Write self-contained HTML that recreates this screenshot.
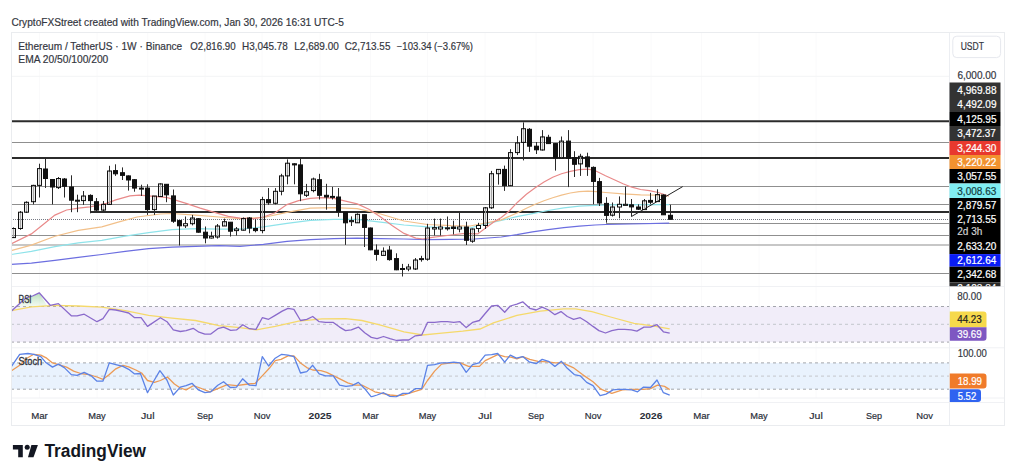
<!DOCTYPE html>
<html><head><meta charset="utf-8"><style>
html,body{margin:0;padding:0;background:#fff;width:1024px;height:474px;overflow:hidden;font-family:"Liberation Sans", sans-serif;}
</style></head><body>
<svg width="1024" height="474" viewBox="0 0 1024 474" style="position:absolute;left:0;top:0" font-family='"Liberation Sans", sans-serif'><defs><clipPath id="cm"><rect x="11.5" y="32.5" width="937.5" height="254"/></clipPath><clipPath id="cr"><rect x="11.5" y="287" width="937.5" height="60.5"/></clipPath><clipPath id="cs"><rect x="11.5" y="348.5" width="937.5" height="49.5"/></clipPath><linearGradient id="gg" x1="0" y1="0" x2="0" y2="1"><stop offset="0" stop-color="#7ac47f" stop-opacity="0.55"/><stop offset="1" stop-color="#d9efd9" stop-opacity="0.35"/></linearGradient></defs><line x1="39.5" y1="32" x2="39.5" y2="398" stroke="#fafafb" stroke-width="1"/><line x1="97" y1="32" x2="97" y2="398" stroke="#fafafb" stroke-width="1"/><line x1="147.8" y1="32" x2="147.8" y2="398" stroke="#fafafb" stroke-width="1"/><line x1="205" y1="32" x2="205" y2="398" stroke="#fafafb" stroke-width="1"/><line x1="262" y1="32" x2="262" y2="398" stroke="#fafafb" stroke-width="1"/><line x1="320" y1="32" x2="320" y2="398" stroke="#fafafb" stroke-width="1"/><line x1="370.5" y1="32" x2="370.5" y2="398" stroke="#fafafb" stroke-width="1"/><line x1="427.5" y1="32" x2="427.5" y2="398" stroke="#fafafb" stroke-width="1"/><line x1="485" y1="32" x2="485" y2="398" stroke="#fafafb" stroke-width="1"/><line x1="536" y1="32" x2="536" y2="398" stroke="#fafafb" stroke-width="1"/><line x1="593" y1="32" x2="593" y2="398" stroke="#fafafb" stroke-width="1"/><line x1="651" y1="32" x2="651" y2="398" stroke="#fafafb" stroke-width="1"/><line x1="701.5" y1="32" x2="701.5" y2="398" stroke="#fafafb" stroke-width="1"/><line x1="759" y1="32" x2="759" y2="398" stroke="#fafafb" stroke-width="1"/><line x1="816" y1="32" x2="816" y2="398" stroke="#fafafb" stroke-width="1"/><line x1="11" y1="76.3" x2="949" y2="76.3" stroke="#f3f4f6" stroke-width="1"/><g clip-path="url(#cr)"><rect x="11" y="306.5" width="938" height="35.6" fill="#f1edf9"/><line x1="11" y1="306.5" x2="949" y2="306.5" stroke="#a3a5ac" stroke-width="1" stroke-dasharray="3 3"/><line x1="11" y1="324.3" x2="949" y2="324.3" stroke="#c4c6cc" stroke-width="1" stroke-dasharray="3 3"/><line x1="11" y1="342.1" x2="949" y2="342.1" stroke="#a3a5ac" stroke-width="1" stroke-dasharray="3 3"/><polygon points="15.6,306.5 19.7,303.6 26,298 32.5,296 39.2,292.8 47.6,306.5" fill="url(#gg)"/><polyline points="11.5,310.7 31.4,306.9 54.9,305.3 78.3,306.0 101.8,307.2 125.2,310.7 148.6,315.4 172.0,318.2 195.5,320.5 219.0,325.7 240.0,327.6 256.4,329.9 275.2,326.4 298.6,321.2 322.0,318.9 345.5,318.6 361.9,320.5 380.6,325.2 404.0,331.8 422.8,335.0 439.2,333.4 462.7,331.1 480.0,329.0 493.4,322.9 516.9,315.4 540.3,311.1 563.8,308.8 575.5,308.8 591.9,311.6 610.6,317.0 634.0,323.3 652.8,325.9 669.7,328.9" fill="none" stroke="#f5d96b" stroke-width="1.3"/><polyline points="11.5,311.1 19.7,303.6 26.0,298.0 32.5,296.0 39.2,292.8 50.2,305.3 58.4,303.6 71.3,315.8 77.1,315.8 84.2,314.2 97.0,321.7 103.0,318.6 109.3,309.3 115.8,310.0 122.9,311.6 128.7,313.0 134.6,317.7 141.1,317.7 147.5,326.4 160.4,317.7 167.0,321.7 173.3,329.9 180.3,331.5 186.1,330.6 193.2,328.3 199.0,332.2 204.9,334.1 210.8,334.1 217.8,328.7 223.6,327.1 230.7,330.4 236.5,329.9 242.8,324.7 249.4,328.7 256.0,329.4 262.3,317.7 268.6,319.3 275.2,315.4 282.2,311.1 288.0,308.3 293.9,309.3 300.5,320.5 306.8,319.3 312.7,316.5 319.2,321.7 325.6,322.4 333.3,322.4 339.6,327.1 345.5,330.6 351.3,329.9 358.4,327.1 364.7,332.7 371.3,337.4 377.1,338.6 383.5,336.5 390.0,338.6 396.6,340.5 402.9,340.0 408.8,340.0 415.3,335.8 421.7,335.0 427.5,322.4 434.6,322.4 441.1,321.7 447.4,321.7 453.8,322.4 459.9,321.7 466.2,327.6 472.5,322.4 479.4,320.5 485.2,313.5 491.6,306.0 497.7,305.3 504.7,312.3 510.3,306.0 516.9,304.1 522.7,301.8 529.8,308.3 536.1,310.0 542.2,307.2 548.5,310.0 554.9,314.7 561.0,311.6 567.3,316.5 573.6,319.3 580.2,317.7 586.7,321.7 593.0,326.4 598.9,330.6 605.5,333.0 611.8,330.6 618.1,329.4 624.7,329.4 631.3,329.9 636.9,331.1 643.9,327.1 650.5,327.1 657.0,324.7 663.4,331.8 669.7,333.2" fill="none" stroke="#8a6acb" stroke-width="1.3" stroke-linejoin="round"/></g><g clip-path="url(#cs)"><rect x="11" y="362.9" width="938" height="26.3" fill="#e9f2fd"/><line x1="11" y1="362.9" x2="949" y2="362.9" stroke="#a3a5ac" stroke-width="1" stroke-dasharray="3 3"/><line x1="11" y1="376.1" x2="949" y2="376.1" stroke="#c4c6cc" stroke-width="1" stroke-dasharray="3 3"/><line x1="11" y1="389.2" x2="949" y2="389.2" stroke="#a3a5ac" stroke-width="1" stroke-dasharray="3 3"/><polyline points="11.5,370.7 19.7,365.3 26.8,358.2 33.8,354.3 40.8,355.2 46.7,358.2 52.5,362.9 58.4,364.6 66.6,367.1 73.6,371.1 80.7,373.5 88.9,374.6 97.0,377.0 103.0,379.3 109.3,374.6 115.8,368.8 122.9,365.3 128.7,366.9 135.8,370.0 141.6,373.0 147.5,380.5 154.5,382.4 160.4,380.5 167.4,377.0 174.4,384.0 180.3,388.0 186.1,389.9 193.2,385.7 200.2,388.0 209.6,391.8 217.8,388.7 227.2,384.7 236.5,385.7 248.0,384.0 255.2,383.3 263.4,374.6 269.3,368.3 275.2,360.6 281.0,359.4 288.0,355.9 293.9,355.9 300.5,362.9 306.8,367.6 312.7,370.0 320.9,370.7 326.7,372.3 333.8,375.8 340.8,379.3 347.8,382.8 354.9,385.2 361.9,385.2 367.7,388.0 374.8,391.8 381.8,393.4 390.0,395.0 397.0,395.7 404.0,395.0 411.1,392.7 421.7,389.4 427.5,380.5 434.6,371.1 441.6,364.1 451.0,362.9 460.3,362.9 468.5,366.4 479.4,366.4 485.2,360.6 497.7,354.7 504.7,356.6 511.0,357.1 516.9,358.9 522.7,356.6 529.8,359.4 538.0,361.3 547.4,361.8 555.6,362.9 562.6,362.9 573.1,367.6 582.5,374.6 593.0,381.7 601.3,389.4 611.8,393.4 622.4,389.9 631.7,389.4 643.5,389.4 650.5,388.7 657.5,385.2 664.6,386.4 669.7,389.6" fill="none" stroke="#ec9a55" stroke-width="1.3" stroke-linejoin="round"/><polyline points="11.5,366.4 19.7,354.3 27.9,353.5 33.8,354.3 40.8,356.6 45.5,362.2 52.5,367.1 58.4,364.1 64.3,367.6 71.3,374.6 77.1,375.3 84.2,372.3 91.2,375.8 97.0,381.2 103.0,381.0 109.3,362.9 115.8,364.6 122.9,366.4 128.7,369.3 134.6,373.9 140.4,373.5 147.5,392.7 153.8,381.0 159.9,370.7 166.9,380.0 173.3,395.0 180.3,387.1 186.1,385.7 192.0,383.3 198.3,389.9 204.9,392.7 210.8,391.8 217.8,385.2 223.6,381.7 230.2,387.5 236.5,387.1 242.6,378.8 249.4,385.2 256.0,385.7 262.3,356.6 268.6,366.0 275.2,358.2 281.7,354.3 288.0,355.2 293.9,356.6 300.5,373.0 306.8,371.6 312.7,365.3 319.2,373.9 325.6,375.8 333.3,375.8 339.6,385.2 346.0,386.4 352.0,385.7 358.4,382.4 364.7,388.7 371.3,396.9 377.1,395.0 383.5,392.7 390.0,396.4 395.9,396.9 402.9,393.4 408.8,393.4 415.3,388.7 421.7,388.7 427.5,365.3 434.6,364.6 441.1,362.9 447.4,362.9 453.8,362.2 459.9,362.9 466.2,372.3 472.6,364.6 478.9,362.9 485.2,355.2 491.6,354.7 497.7,353.5 504.7,362.2 510.3,355.2 516.4,358.2 522.7,356.6 529.1,361.8 536.1,363.6 542.2,359.4 548.5,361.3 554.9,366.4 561.4,361.3 567.3,368.3 574.3,374.6 580.2,375.8 586.7,382.4 593.0,385.7 600.1,395.7 606.0,394.1 613.0,389.9 618.8,389.4 625.2,389.4 631.7,389.9 637.6,391.8 643.5,387.1 650.5,387.5 657.0,380.0 663.4,392.7 669.7,395.2" fill="none" stroke="#5b82e6" stroke-width="1.3" stroke-linejoin="round"/></g><line x1="11" y1="286.5" x2="1005" y2="286.5" stroke="#f0f1f4" stroke-width="1"/><line x1="11" y1="347.8" x2="1005" y2="347.8" stroke="#f0f1f4" stroke-width="1"/><line x1="11" y1="398" x2="1005" y2="398" stroke="#f0f1f4" stroke-width="1"/><line x1="11" y1="402.5" x2="1005" y2="402.5" stroke="#f0f1f4" stroke-width="1"/><g clip-path="url(#cm)"><line x1="11" y1="121.2" x2="949" y2="121.2" stroke="#2b2b2b" stroke-width="2"/><line x1="11" y1="142.5" x2="949" y2="142.5" stroke="#8f8f8f" stroke-width="1.2"/><line x1="11" y1="158" x2="949" y2="158" stroke="#2b2b2b" stroke-width="2"/><line x1="11" y1="186.5" x2="949" y2="186.5" stroke="#8f8f8f" stroke-width="1.2"/><line x1="11" y1="204.5" x2="949" y2="204.5" stroke="#8f8f8f" stroke-width="1.2"/><line x1="90" y1="212" x2="949" y2="212" stroke="#2b2b2b" stroke-width="2"/><line x1="606" y1="223.5" x2="949" y2="223.5" stroke="#8f8f8f" stroke-width="1.2"/><line x1="11" y1="235.5" x2="949" y2="235.5" stroke="#8f8f8f" stroke-width="1.2"/><line x1="11" y1="245.0" x2="949" y2="245.0" stroke="#8f8f8f" stroke-width="1.2"/><line x1="11" y1="273.5" x2="949" y2="273.5" stroke="#8f8f8f" stroke-width="1.2"/><line x1="11" y1="219.5" x2="949" y2="219.5" stroke="#777a84" stroke-width="1" stroke-dasharray="1 1"/><polyline points="11.0,264.3 31.4,263.1 54.9,260.3 78.3,257.3 101.8,254.5 125.2,251.4 148.6,248.6 172.0,247.2 195.5,246.3 219.0,245.6 240.0,246.3 263.4,244.4 287.0,241.4 310.3,239.7 333.8,238.6 357.2,238.1 380.6,238.6 404.0,239.0 427.5,239.7 451.0,239.3 474.7,239.0 501.3,237.0 516.9,234.7 532.5,231.9 548.1,229.7 563.8,227.7 579.4,226.1 595.0,225.0 606.0,224.5 630.0,224.0 669.2,223.2" fill="none" stroke="#6c6ee0" stroke-width="1.2"/><polyline points="11.0,254.5 31.4,251.4 54.9,246.7 78.3,242.8 101.8,240.4 125.2,236.2 148.6,232.7 172.0,229.7 195.5,228.7 219.0,229.2 240.0,229.2 263.4,226.8 287.0,223.3 310.3,220.3 333.8,219.3 357.2,219.3 380.6,222.2 404.0,225.0 427.5,226.8 451.0,228.0 470.0,228.0 485.6,223.8 501.3,220.3 516.9,216.7 532.5,213.6 548.1,210.5 563.8,207.8 579.4,206.2 595.0,205.3 610.6,204.8 669.2,204.6" fill="none" stroke="#8fe3ea" stroke-width="1.2"/><polyline points="11.0,250.7 31.4,245.1 54.9,236.2 78.3,230.4 101.8,226.8 118.2,222.2 137.0,217.0 160.4,214.0 172.0,213.5 195.5,215.1 219.0,217.0 240.0,218.6 263.4,217.5 287.0,212.3 310.3,208.1 333.8,207.6 357.2,208.6 380.6,214.0 404.0,221.0 427.5,224.5 451.0,225.7 470.0,226.0 485.6,223.0 501.3,219.8 517.6,212.7 526.4,208.3 535.2,204.3 544.0,200.8 552.7,197.8 561.5,195.1 570.3,193.0 579.1,191.6 587.9,191.1 596.7,191.6 605.5,192.5 623.0,193.9 640.6,194.8 658.2,195.1 668.8,196.0" fill="none" stroke="#f2c08a" stroke-width="1.2"/><polyline points="11.0,243.9 31.4,233.9 43.2,224.5 54.9,215.1 66.6,210.0 78.3,208.1 90.0,206.9 106.4,203.4 115.8,199.9 129.9,195.9 139.3,195.2 148.6,195.9 167.4,197.6 186.1,203.4 200.2,208.1 211.9,211.6 228.3,216.3 240.0,218.2 254.0,218.6 263.4,217.0 275.2,212.8 286.9,204.6 298.6,200.6 310.3,198.3 322.0,197.6 333.8,198.3 345.5,201.1 357.2,203.9 368.9,209.3 380.6,217.0 392.4,225.7 404.0,233.4 415.8,238.1 422.8,239.0 432.2,237.4 451.0,235.0 465.0,233.4 477.8,233.9 485.6,228.1 493.4,222.2 501.3,217.5 509.0,211.2 517.6,202.2 526.4,194.3 535.2,187.8 544.0,182.0 552.7,177.2 561.5,173.7 570.3,171.4 579.1,169.7 587.9,169.1 594.9,170.5 605.5,175.8 614.3,179.7 623.0,183.7 631.9,187.2 640.6,189.5 649.4,190.7 658.2,192.5 668.8,196.0" fill="none" stroke="#e98a8a" stroke-width="1.2"/><line x1="631.5" y1="216.5" x2="682.7" y2="186.6" stroke="#222" stroke-width="1"/><line x1="13.50" y1="227.4" x2="13.50" y2="238" stroke="#2a2a2a" stroke-width="1"/><line x1="13.50" y1="229.0" x2="13.50" y2="237.1" stroke="#d6d6d6" stroke-width="0.8"/><rect x="11.50" y="228.5" width="4.0" height="9.1" fill="#000" fill-opacity="0.08" stroke="#111" stroke-width="1"/><line x1="20.50" y1="211" x2="20.50" y2="229.8" stroke="#2a2a2a" stroke-width="1"/><line x1="20.50" y1="212.7" x2="20.50" y2="228.0" stroke="#d6d6d6" stroke-width="0.8"/><rect x="18.50" y="212.2" width="4.0" height="16.3" fill="#000" fill-opacity="0.08" stroke="#111" stroke-width="1"/><line x1="26.50" y1="201.3" x2="26.50" y2="212.9" stroke="#2a2a2a" stroke-width="1"/><line x1="26.50" y1="202.8" x2="26.50" y2="211.7" stroke="#d6d6d6" stroke-width="0.8"/><rect x="24.50" y="202.3" width="4.0" height="9.9" fill="#000" fill-opacity="0.08" stroke="#111" stroke-width="1"/><line x1="33.50" y1="184.8" x2="33.50" y2="204.4" stroke="#2a2a2a" stroke-width="1"/><line x1="33.50" y1="185.9" x2="33.50" y2="201.2" stroke="#d6d6d6" stroke-width="0.8"/><rect x="31.50" y="185.4" width="4.0" height="16.3" fill="#000" fill-opacity="0.08" stroke="#111" stroke-width="1"/><line x1="39.50" y1="163.7" x2="39.50" y2="197.5" stroke="#2a2a2a" stroke-width="1"/><line x1="39.50" y1="169.1" x2="39.50" y2="184.9" stroke="#d6d6d6" stroke-width="0.8"/><rect x="37.50" y="168.6" width="4.0" height="16.8" fill="#000" fill-opacity="0.08" stroke="#111" stroke-width="1"/><line x1="45.50" y1="158.4" x2="45.50" y2="188" stroke="#2a2a2a" stroke-width="1"/><rect x="43.50" y="169" width="4.0" height="9.5" fill="#111" stroke="#111" stroke-width="1"/><line x1="52.50" y1="179" x2="52.50" y2="204.4" stroke="#2a2a2a" stroke-width="1"/><rect x="50.50" y="179.5" width="4.0" height="7.5" fill="#111" stroke="#111" stroke-width="1"/><line x1="58.50" y1="177" x2="58.50" y2="189" stroke="#2a2a2a" stroke-width="1"/><line x1="58.50" y1="179.0" x2="58.50" y2="187.1" stroke="#d6d6d6" stroke-width="0.8"/><rect x="56.50" y="178.5" width="4.0" height="9.1" fill="#000" fill-opacity="0.08" stroke="#111" stroke-width="1"/><line x1="64.50" y1="178" x2="64.50" y2="197.5" stroke="#2a2a2a" stroke-width="1"/><rect x="62.50" y="179" width="4.0" height="7.3" fill="#111" stroke="#111" stroke-width="1"/><line x1="71.50" y1="175.3" x2="71.50" y2="212.2" stroke="#2a2a2a" stroke-width="1"/><rect x="69.50" y="187" width="4.0" height="13.2" fill="#111" stroke="#111" stroke-width="1"/><line x1="77.50" y1="194.7" x2="77.50" y2="212.2" stroke="#2a2a2a" stroke-width="1"/><rect x="75.50" y="200.2" width="4.0" height="1.0" fill="#fff" stroke="#111" stroke-width="1"/><line x1="83.50" y1="191" x2="83.50" y2="204.9" stroke="#2a2a2a" stroke-width="1"/><line x1="83.50" y1="196.5" x2="83.50" y2="200.1" stroke="#d6d6d6" stroke-width="0.8"/><rect x="81.50" y="196" width="4.0" height="4.6" fill="#000" fill-opacity="0.08" stroke="#111" stroke-width="1"/><line x1="90.50" y1="194.3" x2="90.50" y2="213.3" stroke="#2a2a2a" stroke-width="1"/><rect x="88.50" y="195.4" width="4.0" height="5.2" fill="#111" stroke="#111" stroke-width="1"/><line x1="96.50" y1="198" x2="96.50" y2="211.2" stroke="#2a2a2a" stroke-width="1"/><rect x="94.50" y="201.7" width="4.0" height="8.4" fill="#111" stroke="#111" stroke-width="1"/><line x1="103.50" y1="201" x2="103.50" y2="211.2" stroke="#2a2a2a" stroke-width="1"/><line x1="103.50" y1="204.9" x2="103.50" y2="209.6" stroke="#d6d6d6" stroke-width="0.8"/><rect x="101.50" y="204.4" width="4.0" height="5.7" fill="#000" fill-opacity="0.08" stroke="#111" stroke-width="1"/><line x1="109.50" y1="165.8" x2="109.50" y2="204.4" stroke="#2a2a2a" stroke-width="1"/><line x1="109.50" y1="171.5" x2="109.50" y2="203.9" stroke="#d6d6d6" stroke-width="0.8"/><rect x="107.50" y="171" width="4.0" height="33.4" fill="#000" fill-opacity="0.08" stroke="#111" stroke-width="1"/><line x1="115.50" y1="164.3" x2="115.50" y2="175.9" stroke="#2a2a2a" stroke-width="1"/><rect x="113.50" y="170.6" width="4.0" height="3.2" fill="#111" stroke="#111" stroke-width="1"/><line x1="122.50" y1="167.4" x2="122.50" y2="180" stroke="#2a2a2a" stroke-width="1"/><rect x="120.50" y="172.7" width="4.0" height="2.7" fill="#111" stroke="#111" stroke-width="1"/><line x1="128.50" y1="175.4" x2="128.50" y2="190.6" stroke="#2a2a2a" stroke-width="1"/><rect x="126.50" y="175.9" width="4.0" height="4.1" fill="#111" stroke="#111" stroke-width="1"/><line x1="134.50" y1="179" x2="134.50" y2="191.7" stroke="#2a2a2a" stroke-width="1"/><rect x="132.50" y="179.7" width="4.0" height="8.4" fill="#111" stroke="#111" stroke-width="1"/><line x1="141.50" y1="184.7" x2="141.50" y2="196" stroke="#2a2a2a" stroke-width="1"/><rect x="139.50" y="188.1" width="4.0" height="1.0" fill="#fff" stroke="#111" stroke-width="1"/><line x1="147.50" y1="184.3" x2="147.50" y2="214.9" stroke="#2a2a2a" stroke-width="1"/><rect x="145.50" y="188.1" width="4.0" height="21.5" fill="#111" stroke="#111" stroke-width="1"/><line x1="154.50" y1="196" x2="154.50" y2="214.9" stroke="#2a2a2a" stroke-width="1"/><line x1="154.50" y1="196.5" x2="154.50" y2="209.1" stroke="#d6d6d6" stroke-width="0.8"/><rect x="152.50" y="196" width="4.0" height="13.6" fill="#000" fill-opacity="0.08" stroke="#111" stroke-width="1"/><line x1="160.50" y1="183.3" x2="160.50" y2="196.5" stroke="#2a2a2a" stroke-width="1"/><line x1="160.50" y1="184.4" x2="160.50" y2="196.0" stroke="#d6d6d6" stroke-width="0.8"/><rect x="158.50" y="183.9" width="4.0" height="12.6" fill="#000" fill-opacity="0.08" stroke="#111" stroke-width="1"/><line x1="166.50" y1="184" x2="166.50" y2="202.2" stroke="#2a2a2a" stroke-width="1"/><rect x="164.50" y="184.3" width="4.0" height="10.5" fill="#111" stroke="#111" stroke-width="1"/><line x1="173.50" y1="189.5" x2="173.50" y2="222.9" stroke="#2a2a2a" stroke-width="1"/><rect x="171.50" y="195.9" width="4.0" height="25.3" fill="#111" stroke="#111" stroke-width="1"/><line x1="179.50" y1="220" x2="179.50" y2="245.5" stroke="#2a2a2a" stroke-width="1"/><rect x="177.50" y="220.6" width="4.0" height="5.2" fill="#111" stroke="#111" stroke-width="1"/><line x1="185.50" y1="216.5" x2="185.50" y2="228" stroke="#2a2a2a" stroke-width="1"/><rect x="183.50" y="223.7" width="4.0" height="2.1" fill="#fff" stroke="#111" stroke-width="1"/><line x1="192.50" y1="214.9" x2="192.50" y2="225.4" stroke="#2a2a2a" stroke-width="1"/><line x1="192.50" y1="218.5" x2="192.50" y2="223.2" stroke="#d6d6d6" stroke-width="0.8"/><rect x="190.50" y="218" width="4.0" height="5.7" fill="#000" fill-opacity="0.08" stroke="#111" stroke-width="1"/><line x1="198.50" y1="218" x2="198.50" y2="232.8" stroke="#2a2a2a" stroke-width="1"/><rect x="196.50" y="218.7" width="4.0" height="13.5" fill="#111" stroke="#111" stroke-width="1"/><line x1="205.50" y1="226.5" x2="205.50" y2="243.3" stroke="#2a2a2a" stroke-width="1"/><rect x="203.50" y="232.2" width="4.0" height="5.8" fill="#111" stroke="#111" stroke-width="1"/><line x1="211.50" y1="231.7" x2="211.50" y2="238.5" stroke="#2a2a2a" stroke-width="1"/><rect x="209.50" y="236.4" width="4.0" height="1.6" fill="#fff" stroke="#111" stroke-width="1"/><line x1="217.50" y1="224" x2="217.50" y2="238.6" stroke="#2a2a2a" stroke-width="1"/><line x1="217.50" y1="226.5" x2="217.50" y2="236.5" stroke="#d6d6d6" stroke-width="0.8"/><rect x="215.50" y="226" width="4.0" height="11.0" fill="#000" fill-opacity="0.08" stroke="#111" stroke-width="1"/><line x1="224.50" y1="218.6" x2="224.50" y2="226" stroke="#2a2a2a" stroke-width="1"/><line x1="224.50" y1="222.2" x2="224.50" y2="225.5" stroke="#d6d6d6" stroke-width="0.8"/><rect x="222.50" y="221.7" width="4.0" height="4.3" fill="#000" fill-opacity="0.08" stroke="#111" stroke-width="1"/><line x1="230.50" y1="222" x2="230.50" y2="236.5" stroke="#2a2a2a" stroke-width="1"/><rect x="228.50" y="222.2" width="4.0" height="9.0" fill="#111" stroke="#111" stroke-width="1"/><line x1="236.50" y1="227" x2="236.50" y2="235.5" stroke="#2a2a2a" stroke-width="1"/><rect x="234.50" y="229" width="4.0" height="1.6" fill="#fff" stroke="#111" stroke-width="1"/><line x1="243.50" y1="217.5" x2="243.50" y2="230.5" stroke="#2a2a2a" stroke-width="1"/><line x1="243.50" y1="219.1" x2="243.50" y2="229.7" stroke="#d6d6d6" stroke-width="0.8"/><rect x="241.50" y="218.6" width="4.0" height="11.6" fill="#000" fill-opacity="0.08" stroke="#111" stroke-width="1"/><line x1="249.50" y1="217" x2="249.50" y2="233.3" stroke="#2a2a2a" stroke-width="1"/><rect x="247.50" y="218" width="4.0" height="10.1" fill="#111" stroke="#111" stroke-width="1"/><line x1="255.50" y1="219.2" x2="255.50" y2="232.3" stroke="#2a2a2a" stroke-width="1"/><rect x="253.50" y="228.5" width="4.0" height="2.1" fill="#111" stroke="#111" stroke-width="1"/><line x1="262.50" y1="196.8" x2="262.50" y2="233.3" stroke="#2a2a2a" stroke-width="1"/><line x1="262.50" y1="200.1" x2="262.50" y2="230.1" stroke="#d6d6d6" stroke-width="0.8"/><rect x="260.50" y="199.6" width="4.0" height="31.0" fill="#000" fill-opacity="0.08" stroke="#111" stroke-width="1"/><line x1="268.50" y1="188" x2="268.50" y2="204.9" stroke="#2a2a2a" stroke-width="1"/><rect x="266.50" y="199.6" width="4.0" height="3.2" fill="#111" stroke="#111" stroke-width="1"/><line x1="275.50" y1="188.1" x2="275.50" y2="204.4" stroke="#2a2a2a" stroke-width="1"/><line x1="275.50" y1="191.8" x2="275.50" y2="202.8" stroke="#d6d6d6" stroke-width="0.8"/><rect x="273.50" y="191.3" width="4.0" height="12.0" fill="#000" fill-opacity="0.08" stroke="#111" stroke-width="1"/><line x1="281.50" y1="173.8" x2="281.50" y2="195.3" stroke="#2a2a2a" stroke-width="1"/><line x1="281.50" y1="176.4" x2="281.50" y2="190.8" stroke="#d6d6d6" stroke-width="0.8"/><rect x="279.50" y="175.9" width="4.0" height="15.4" fill="#000" fill-opacity="0.08" stroke="#111" stroke-width="1"/><line x1="287.50" y1="159.4" x2="287.50" y2="184.3" stroke="#2a2a2a" stroke-width="1"/><line x1="287.50" y1="163.7" x2="287.50" y2="175.4" stroke="#d6d6d6" stroke-width="0.8"/><rect x="285.50" y="163.2" width="4.0" height="12.7" fill="#000" fill-opacity="0.08" stroke="#111" stroke-width="1"/><line x1="294.50" y1="163.2" x2="294.50" y2="184.3" stroke="#2a2a2a" stroke-width="1"/><rect x="292.50" y="163.8" width="4.0" height="1.1" fill="#111" stroke="#111" stroke-width="1"/><line x1="300.50" y1="158.6" x2="300.50" y2="201.2" stroke="#2a2a2a" stroke-width="1"/><rect x="298.50" y="164.9" width="4.0" height="28.9" fill="#111" stroke="#111" stroke-width="1"/><line x1="306.50" y1="183.9" x2="306.50" y2="197" stroke="#2a2a2a" stroke-width="1"/><line x1="306.50" y1="192.2" x2="306.50" y2="194.8" stroke="#d6d6d6" stroke-width="0.8"/><rect x="304.50" y="191.7" width="4.0" height="3.6" fill="#000" fill-opacity="0.08" stroke="#111" stroke-width="1"/><line x1="313.50" y1="177.6" x2="313.50" y2="192.3" stroke="#2a2a2a" stroke-width="1"/><line x1="313.50" y1="179.5" x2="313.50" y2="190.1" stroke="#d6d6d6" stroke-width="0.8"/><rect x="311.50" y="179" width="4.0" height="11.6" fill="#000" fill-opacity="0.08" stroke="#111" stroke-width="1"/><line x1="319.50" y1="173.8" x2="319.50" y2="199.5" stroke="#2a2a2a" stroke-width="1"/><rect x="317.50" y="179.7" width="4.0" height="15.6" fill="#111" stroke="#111" stroke-width="1"/><line x1="326.50" y1="183.8" x2="326.50" y2="209.7" stroke="#2a2a2a" stroke-width="1"/><rect x="324.50" y="195.3" width="4.0" height="1.7" fill="#111" stroke="#111" stroke-width="1"/><line x1="332.50" y1="186.9" x2="332.50" y2="199.5" stroke="#2a2a2a" stroke-width="1"/><rect x="330.50" y="196.4" width="4.0" height="1.0" fill="#fff" stroke="#111" stroke-width="1"/><line x1="338.50" y1="188" x2="338.50" y2="216.8" stroke="#2a2a2a" stroke-width="1"/><rect x="336.50" y="197" width="4.0" height="14.8" fill="#111" stroke="#111" stroke-width="1"/><line x1="345.50" y1="211.8" x2="345.50" y2="244.9" stroke="#2a2a2a" stroke-width="1"/><rect x="343.50" y="212.2" width="4.0" height="10.6" fill="#111" stroke="#111" stroke-width="1"/><line x1="351.50" y1="216.4" x2="351.50" y2="226" stroke="#2a2a2a" stroke-width="1"/><rect x="349.50" y="220.6" width="4.0" height="1.1" fill="#fff" stroke="#111" stroke-width="1"/><line x1="357.50" y1="213.3" x2="357.50" y2="222.8" stroke="#2a2a2a" stroke-width="1"/><line x1="357.50" y1="214.8" x2="357.50" y2="222.3" stroke="#d6d6d6" stroke-width="0.8"/><rect x="355.50" y="214.3" width="4.0" height="8.5" fill="#000" fill-opacity="0.08" stroke="#111" stroke-width="1"/><line x1="364.50" y1="214.5" x2="364.50" y2="247" stroke="#2a2a2a" stroke-width="1"/><rect x="362.50" y="214.7" width="4.0" height="12.7" fill="#111" stroke="#111" stroke-width="1"/><line x1="370.50" y1="227.5" x2="370.50" y2="250.2" stroke="#2a2a2a" stroke-width="1"/><rect x="368.50" y="228" width="4.0" height="21.8" fill="#111" stroke="#111" stroke-width="1"/><line x1="376.50" y1="244.4" x2="376.50" y2="260.7" stroke="#2a2a2a" stroke-width="1"/><rect x="374.50" y="250.2" width="4.0" height="4.2" fill="#111" stroke="#111" stroke-width="1"/><line x1="383.50" y1="247.4" x2="383.50" y2="255.4" stroke="#2a2a2a" stroke-width="1"/><line x1="383.50" y1="251.7" x2="383.50" y2="254.9" stroke="#d6d6d6" stroke-width="0.8"/><rect x="381.50" y="251.2" width="4.0" height="4.2" fill="#000" fill-opacity="0.08" stroke="#111" stroke-width="1"/><line x1="389.50" y1="245.9" x2="389.50" y2="260.7" stroke="#2a2a2a" stroke-width="1"/><rect x="387.50" y="250.1" width="4.0" height="9.5" fill="#111" stroke="#111" stroke-width="1"/><line x1="396.50" y1="253.3" x2="396.50" y2="270.2" stroke="#2a2a2a" stroke-width="1"/><rect x="394.50" y="258.6" width="4.0" height="11.2" fill="#111" stroke="#111" stroke-width="1"/><line x1="402.50" y1="263.9" x2="402.50" y2="276.5" stroke="#2a2a2a" stroke-width="1"/><rect x="400.50" y="268.5" width="4.0" height="1.0" fill="#fff" stroke="#111" stroke-width="1"/><line x1="408.50" y1="263.9" x2="408.50" y2="271.2" stroke="#2a2a2a" stroke-width="1"/><rect x="406.50" y="267" width="4.0" height="2.0" fill="#fff" stroke="#111" stroke-width="1"/><line x1="415.50" y1="258" x2="415.50" y2="270" stroke="#2a2a2a" stroke-width="1"/><line x1="415.50" y1="260.5" x2="415.50" y2="268.5" stroke="#d6d6d6" stroke-width="0.8"/><rect x="413.50" y="260" width="4.0" height="9.0" fill="#000" fill-opacity="0.08" stroke="#111" stroke-width="1"/><line x1="421.50" y1="255.8" x2="421.50" y2="261.7" stroke="#2a2a2a" stroke-width="1"/><rect x="419.50" y="258.6" width="4.0" height="1.0" fill="#fff" stroke="#111" stroke-width="1"/><line x1="427.50" y1="223.8" x2="427.50" y2="260.7" stroke="#2a2a2a" stroke-width="1"/><line x1="427.50" y1="228.5" x2="427.50" y2="258.7" stroke="#d6d6d6" stroke-width="0.8"/><rect x="425.50" y="228" width="4.0" height="31.2" fill="#000" fill-opacity="0.08" stroke="#111" stroke-width="1"/><line x1="434.50" y1="218.6" x2="434.50" y2="235.5" stroke="#2a2a2a" stroke-width="1"/><rect x="432.50" y="227.6" width="4.0" height="1.4" fill="#fff" stroke="#111" stroke-width="1"/><line x1="440.50" y1="218.6" x2="440.50" y2="235.5" stroke="#2a2a2a" stroke-width="1"/><rect x="438.50" y="227" width="4.0" height="2.0" fill="#fff" stroke="#111" stroke-width="1"/><line x1="447.50" y1="216.5" x2="447.50" y2="230.6" stroke="#2a2a2a" stroke-width="1"/><rect x="445.50" y="227.8" width="4.0" height="1.0" fill="#fff" stroke="#111" stroke-width="1"/><line x1="453.50" y1="220.7" x2="453.50" y2="234.4" stroke="#2a2a2a" stroke-width="1"/><rect x="451.50" y="227" width="4.0" height="1.5" fill="#111" stroke="#111" stroke-width="1"/><line x1="459.50" y1="212.2" x2="459.50" y2="232.3" stroke="#2a2a2a" stroke-width="1"/><rect x="457.50" y="227" width="4.0" height="2.0" fill="#fff" stroke="#111" stroke-width="1"/><line x1="466.50" y1="221.7" x2="466.50" y2="245" stroke="#2a2a2a" stroke-width="1"/><rect x="464.50" y="227" width="4.0" height="13.3" fill="#111" stroke="#111" stroke-width="1"/><line x1="472.50" y1="228.5" x2="472.50" y2="242.8" stroke="#2a2a2a" stroke-width="1"/><line x1="472.50" y1="229.5" x2="472.50" y2="240.7" stroke="#d6d6d6" stroke-width="0.8"/><rect x="470.50" y="229" width="4.0" height="12.2" fill="#000" fill-opacity="0.08" stroke="#111" stroke-width="1"/><line x1="478.50" y1="222.8" x2="478.50" y2="232.3" stroke="#2a2a2a" stroke-width="1"/><rect x="476.50" y="225.5" width="4.0" height="3.0" fill="#fff" stroke="#111" stroke-width="1"/><line x1="485.50" y1="207" x2="485.50" y2="229" stroke="#2a2a2a" stroke-width="1"/><line x1="485.50" y1="208.3" x2="485.50" y2="225.0" stroke="#d6d6d6" stroke-width="0.8"/><rect x="483.50" y="207.8" width="4.0" height="17.7" fill="#000" fill-opacity="0.08" stroke="#111" stroke-width="1"/><line x1="491.50" y1="170.9" x2="491.50" y2="208.9" stroke="#2a2a2a" stroke-width="1"/><line x1="491.50" y1="174.2" x2="491.50" y2="207.3" stroke="#d6d6d6" stroke-width="0.8"/><rect x="489.50" y="173.7" width="4.0" height="34.1" fill="#000" fill-opacity="0.08" stroke="#111" stroke-width="1"/><line x1="498.50" y1="169" x2="498.50" y2="184.6" stroke="#2a2a2a" stroke-width="1"/><line x1="498.50" y1="169.9" x2="498.50" y2="173.2" stroke="#d6d6d6" stroke-width="0.8"/><rect x="496.50" y="169.4" width="4.0" height="4.3" fill="#000" fill-opacity="0.08" stroke="#111" stroke-width="1"/><line x1="504.50" y1="165.6" x2="504.50" y2="190.9" stroke="#2a2a2a" stroke-width="1"/><rect x="502.50" y="169.4" width="4.0" height="16.3" fill="#111" stroke="#111" stroke-width="1"/><line x1="510.50" y1="149.2" x2="510.50" y2="186" stroke="#2a2a2a" stroke-width="1"/><line x1="510.50" y1="153.1" x2="510.50" y2="185.2" stroke="#d6d6d6" stroke-width="0.8"/><rect x="508.50" y="152.6" width="4.0" height="33.1" fill="#000" fill-opacity="0.08" stroke="#111" stroke-width="1"/><line x1="517.50" y1="136.1" x2="517.50" y2="155.1" stroke="#2a2a2a" stroke-width="1"/><line x1="517.50" y1="143.4" x2="517.50" y2="152.1" stroke="#d6d6d6" stroke-width="0.8"/><rect x="515.50" y="142.9" width="4.0" height="9.7" fill="#000" fill-opacity="0.08" stroke="#111" stroke-width="1"/><line x1="523.50" y1="122.4" x2="523.50" y2="160.4" stroke="#2a2a2a" stroke-width="1"/><line x1="523.50" y1="129.2" x2="523.50" y2="141.9" stroke="#d6d6d6" stroke-width="0.8"/><rect x="521.50" y="128.7" width="4.0" height="13.7" fill="#000" fill-opacity="0.08" stroke="#111" stroke-width="1"/><line x1="529.50" y1="128.1" x2="529.50" y2="151.9" stroke="#2a2a2a" stroke-width="1"/><rect x="527.50" y="129.3" width="4.0" height="16.9" fill="#111" stroke="#111" stroke-width="1"/><line x1="536.50" y1="142" x2="536.50" y2="154" stroke="#2a2a2a" stroke-width="1"/><rect x="534.50" y="146.2" width="4.0" height="3.6" fill="#111" stroke="#111" stroke-width="1"/><line x1="542.50" y1="130.1" x2="542.50" y2="150.6" stroke="#2a2a2a" stroke-width="1"/><line x1="542.50" y1="137.4" x2="542.50" y2="149.5" stroke="#d6d6d6" stroke-width="0.8"/><rect x="540.50" y="136.9" width="4.0" height="13.1" fill="#000" fill-opacity="0.08" stroke="#111" stroke-width="1"/><line x1="548.50" y1="134.8" x2="548.50" y2="144" stroke="#2a2a2a" stroke-width="1"/><rect x="546.50" y="137.3" width="4.0" height="6.3" fill="#111" stroke="#111" stroke-width="1"/><line x1="555.50" y1="143" x2="555.50" y2="170.6" stroke="#2a2a2a" stroke-width="1"/><rect x="553.50" y="143.6" width="4.0" height="14.4" fill="#111" stroke="#111" stroke-width="1"/><line x1="561.50" y1="136.5" x2="561.50" y2="158.5" stroke="#2a2a2a" stroke-width="1"/><line x1="561.50" y1="141.6" x2="561.50" y2="157.5" stroke="#d6d6d6" stroke-width="0.8"/><rect x="559.50" y="141.1" width="4.0" height="16.9" fill="#000" fill-opacity="0.08" stroke="#111" stroke-width="1"/><line x1="568.50" y1="130.1" x2="568.50" y2="187.1" stroke="#2a2a2a" stroke-width="1"/><rect x="566.50" y="141.1" width="4.0" height="17.3" fill="#111" stroke="#111" stroke-width="1"/><line x1="574.50" y1="151.2" x2="574.50" y2="177" stroke="#2a2a2a" stroke-width="1"/><rect x="572.50" y="157.6" width="4.0" height="6.7" fill="#111" stroke="#111" stroke-width="1"/><line x1="580.50" y1="153.8" x2="580.50" y2="175.9" stroke="#2a2a2a" stroke-width="1"/><line x1="580.50" y1="156.8" x2="580.50" y2="163.4" stroke="#d6d6d6" stroke-width="0.8"/><rect x="578.50" y="156.3" width="4.0" height="7.6" fill="#000" fill-opacity="0.08" stroke="#111" stroke-width="1"/><line x1="587.50" y1="152.7" x2="587.50" y2="175.9" stroke="#2a2a2a" stroke-width="1"/><rect x="585.50" y="156.9" width="4.0" height="9.9" fill="#111" stroke="#111" stroke-width="1"/><line x1="593.50" y1="166.4" x2="593.50" y2="204.3" stroke="#2a2a2a" stroke-width="1"/><rect x="591.50" y="167.4" width="4.0" height="14.0" fill="#111" stroke="#111" stroke-width="1"/><line x1="599.50" y1="177.9" x2="599.50" y2="206" stroke="#2a2a2a" stroke-width="1"/><rect x="597.50" y="181.6" width="4.0" height="21.4" fill="#111" stroke="#111" stroke-width="1"/><line x1="606.50" y1="197.2" x2="606.50" y2="222.7" stroke="#2a2a2a" stroke-width="1"/><rect x="604.50" y="203.4" width="4.0" height="12.0" fill="#111" stroke="#111" stroke-width="1"/><line x1="612.50" y1="202.5" x2="612.50" y2="216.5" stroke="#2a2a2a" stroke-width="1"/><line x1="612.50" y1="207.5" x2="612.50" y2="214.7" stroke="#d6d6d6" stroke-width="0.8"/><rect x="610.50" y="207" width="4.0" height="8.2" fill="#000" fill-opacity="0.08" stroke="#111" stroke-width="1"/><line x1="619.50" y1="196.4" x2="619.50" y2="218.3" stroke="#2a2a2a" stroke-width="1"/><rect x="617.50" y="204.3" width="4.0" height="2.7" fill="#fff" stroke="#111" stroke-width="1"/><line x1="625.50" y1="186.7" x2="625.50" y2="205.4" stroke="#2a2a2a" stroke-width="1"/><rect x="623.50" y="204.3" width="4.0" height="1.1" fill="#fff" stroke="#111" stroke-width="1"/><line x1="631.50" y1="199" x2="631.50" y2="216.6" stroke="#2a2a2a" stroke-width="1"/><rect x="629.50" y="204.8" width="4.0" height="2.1" fill="#111" stroke="#111" stroke-width="1"/><line x1="638.50" y1="204.3" x2="638.50" y2="210" stroke="#2a2a2a" stroke-width="1"/><rect x="636.50" y="207" width="4.0" height="2.2" fill="#111" stroke="#111" stroke-width="1"/><line x1="644.50" y1="199" x2="644.50" y2="209.6" stroke="#2a2a2a" stroke-width="1"/><line x1="644.50" y1="201.3" x2="644.50" y2="209.1" stroke="#d6d6d6" stroke-width="0.8"/><rect x="642.50" y="200.8" width="4.0" height="8.8" fill="#000" fill-opacity="0.08" stroke="#111" stroke-width="1"/><line x1="650.50" y1="192.9" x2="650.50" y2="204.3" stroke="#2a2a2a" stroke-width="1"/><rect x="648.50" y="200.4" width="4.0" height="1.8" fill="#111" stroke="#111" stroke-width="1"/><line x1="657.50" y1="189.3" x2="657.50" y2="201.6" stroke="#2a2a2a" stroke-width="1"/><line x1="657.50" y1="195.1" x2="657.50" y2="201.1" stroke="#d6d6d6" stroke-width="0.8"/><rect x="655.50" y="194.6" width="4.0" height="7.0" fill="#000" fill-opacity="0.08" stroke="#111" stroke-width="1"/><line x1="663.50" y1="194.3" x2="663.50" y2="215" stroke="#2a2a2a" stroke-width="1"/><rect x="661.50" y="195" width="4.0" height="19.8" fill="#111" stroke="#111" stroke-width="1"/><line x1="670.50" y1="204.8" x2="670.50" y2="219.5" stroke="#2a2a2a" stroke-width="1"/><rect x="668.50" y="215.3" width="4.0" height="4.0" fill="#111" stroke="#111" stroke-width="1"/></g><line x1="949.5" y1="32" x2="949.5" y2="426" stroke="#eceef2" stroke-width="1"/><text x="957.4" y="78.9" font-size="10.0" fill="#333640" textLength="39" lengthAdjust="spacingAndGlyphs" stroke="#333640" stroke-width="0.18" xml:space="preserve">6,000.00</text><rect x="949.5" y="82.5" width="51.0" height="29.5" fill="#333333"/><text x="957.3" y="93.6" font-size="10.0" fill="#fff" textLength="39.2" lengthAdjust="spacingAndGlyphs" stroke="#fff" stroke-width="0.2" xml:space="preserve">4,969.88</text><text x="957.3" y="108.1" font-size="10.0" fill="#fff" textLength="39.2" lengthAdjust="spacingAndGlyphs" stroke="#fff" stroke-width="0.2" xml:space="preserve">4,492.09</text><rect x="949.5" y="112" width="51.0" height="14" fill="#000000"/><text x="957.3" y="122.8" font-size="10.0" fill="#fff" textLength="39.2" lengthAdjust="spacingAndGlyphs" stroke="#fff" stroke-width="0.2" xml:space="preserve">4,125.95</text><rect x="949.5" y="126" width="51.0" height="15" fill="#333333"/><text x="957.3" y="137.3" font-size="10.0" fill="#fff" textLength="38.5" lengthAdjust="spacingAndGlyphs" stroke="#fff" stroke-width="0.2" xml:space="preserve">3,472.37</text><rect x="949.5" y="141" width="51.0" height="14" fill="#e8392e"/><text x="957.3" y="151.8" font-size="10.0" fill="#fff" textLength="39" lengthAdjust="spacingAndGlyphs" stroke="#fff" stroke-width="0.2" xml:space="preserve">3,244.30</text><rect x="949.5" y="155" width="51.0" height="14" fill="#f2922f"/><text x="957.3" y="166.0" font-size="10.0" fill="#fff" textLength="39" lengthAdjust="spacingAndGlyphs" stroke="#fff" stroke-width="0.2" xml:space="preserve">3,220.22</text><rect x="949.5" y="169" width="51.0" height="14.5" fill="#000000"/><text x="957.3" y="180.3" font-size="10.0" fill="#fff" textLength="39" lengthAdjust="spacingAndGlyphs" stroke="#fff" stroke-width="0.2" xml:space="preserve">3,057.55</text><rect x="949.5" y="183.5" width="51.0" height="14.5" fill="#80eef2"/><text x="957.3" y="194.60000000000002" font-size="10.0" fill="#143c40" textLength="39" lengthAdjust="spacingAndGlyphs" stroke="#143c40" stroke-width="0.2" xml:space="preserve">3,008.63</text><rect x="949.5" y="198" width="51.0" height="56.099999999999994" fill="#000000"/><text x="957.3" y="209.10000000000002" font-size="10.0" fill="#fff" textLength="39" lengthAdjust="spacingAndGlyphs" stroke="#fff" stroke-width="0.2" xml:space="preserve">2,879.57</text><text x="957.3" y="223.3" font-size="10.0" fill="#fff" textLength="39" lengthAdjust="spacingAndGlyphs" stroke="#fff" stroke-width="0.2" xml:space="preserve">2,713.55</text><text x="957.3" y="234.60000000000002" font-size="10.0" fill="#d0d0d0" textLength="25" lengthAdjust="spacingAndGlyphs" stroke="#d0d0d0" stroke-width="0.2" xml:space="preserve">2d 3h</text><text x="957.3" y="249.9" font-size="10.0" fill="#fff" textLength="39" lengthAdjust="spacingAndGlyphs" stroke="#fff" stroke-width="0.2" xml:space="preserve">2,633.20</text><rect x="949.5" y="254.1" width="51.0" height="12.599999999999994" fill="#0a1cf5"/><text x="957.3" y="263.6" font-size="10.0" fill="#fff" textLength="39" lengthAdjust="spacingAndGlyphs" stroke="#fff" stroke-width="0.2" xml:space="preserve">2,612.64</text><rect x="949.5" y="266.7" width="51.0" height="15.699999999999989" fill="#000000"/><text x="957.3" y="277.90000000000003" font-size="10.0" fill="#fff" textLength="39" lengthAdjust="spacingAndGlyphs" stroke="#fff" stroke-width="0.2" xml:space="preserve">2,342.68</text><clipPath id="cpl"><rect x="949" y="280" width="56" height="6.3"/></clipPath><g clip-path="url(#cpl)"><rect x="949.5" y="282.4" width="51" height="14" fill="#2a2a2a"/><text x="957.3" y="292.4" font-size="10.3" fill="#fff" textLength="39" lengthAdjust="spacingAndGlyphs" stroke="#fff" stroke-width="0.2" xml:space="preserve">2,128.84</text></g><text x="957.2" y="300.4" font-size="10.3" fill="#333640" textLength="24.5" lengthAdjust="spacingAndGlyphs" stroke="#333640" stroke-width="0.18" xml:space="preserve">80.00</text><path d="M949.8,311.6 H983.5 a3,3 0 0 1 3,3 V327.2 H949.8 Z" fill="#f6d94c"/><text x="957.2" y="322.6" font-size="10.3" fill="#222" textLength="24.5" lengthAdjust="spacingAndGlyphs" stroke="#222" stroke-width="0.2" xml:space="preserve">44.23</text><path d="M949.8,327.2 H986.5 V337.7 a3,3 0 0 1 -3,3 H949.8 Z" fill="#7e57c2"/><text x="957.2" y="337.7" font-size="10.3" fill="#fff" textLength="24.5" lengthAdjust="spacingAndGlyphs" stroke="#fff" stroke-width="0.2" xml:space="preserve">39.69</text><text x="957.7" y="357.2" font-size="10.3" fill="#333640" textLength="29.1" lengthAdjust="spacingAndGlyphs" stroke="#333640" stroke-width="0.18" xml:space="preserve">100.00</text><path d="M949.8,373.6 H983.5 a3,3 0 0 1 3,3 V385.6 a3,3 0 0 1 -3,3 H949.8 Z" fill="#f07b2a"/><text x="957.7" y="384.8" font-size="10.3" fill="#fff" textLength="24.3" lengthAdjust="spacingAndGlyphs" stroke="#fff" stroke-width="0.2" xml:space="preserve">18.99</text><path d="M949.8,389.2 H978 a3,3 0 0 1 3,3 V399 a3,3 0 0 1 -3,3 H949.8 Z" fill="#2f63f0"/><text x="957.7" y="399.6" font-size="10.3" fill="#fff" textLength="18.5" lengthAdjust="spacingAndGlyphs" stroke="#fff" stroke-width="0.2" xml:space="preserve">5.52</text><text x="31.2" y="418.6" font-size="9.9" fill="#2a2e39" textLength="16.6" lengthAdjust="spacingAndGlyphs" stroke="#2a2e39" stroke-width="0.2" xml:space="preserve">Mar</text><text x="88.25" y="418.6" font-size="9.9" fill="#2a2e39" textLength="17.5" lengthAdjust="spacingAndGlyphs" stroke="#2a2e39" stroke-width="0.2" xml:space="preserve">May</text><text x="141.05" y="418.6" font-size="9.9" fill="#2a2e39" textLength="13.5" lengthAdjust="spacingAndGlyphs" stroke="#2a2e39" stroke-width="0.2" xml:space="preserve">Jul</text><text x="197.0" y="418.6" font-size="9.9" fill="#2a2e39" textLength="16" lengthAdjust="spacingAndGlyphs" stroke="#2a2e39" stroke-width="0.2" xml:space="preserve">Sep</text><text x="253.65" y="418.6" font-size="9.9" fill="#2a2e39" textLength="16.7" lengthAdjust="spacingAndGlyphs" stroke="#2a2e39" stroke-width="0.2" xml:space="preserve">Nov</text><text x="308.5" y="418.6" font-size="9.9" fill="#2a2e39" textLength="23" lengthAdjust="spacingAndGlyphs" font-weight="bold" stroke="#2a2e39" stroke-width="0.05" xml:space="preserve">2025</text><text x="362.2" y="418.6" font-size="9.9" fill="#2a2e39" textLength="16.6" lengthAdjust="spacingAndGlyphs" stroke="#2a2e39" stroke-width="0.2" xml:space="preserve">Mar</text><text x="418.75" y="418.6" font-size="9.9" fill="#2a2e39" textLength="17.5" lengthAdjust="spacingAndGlyphs" stroke="#2a2e39" stroke-width="0.2" xml:space="preserve">May</text><text x="478.25" y="418.6" font-size="9.9" fill="#2a2e39" textLength="13.5" lengthAdjust="spacingAndGlyphs" stroke="#2a2e39" stroke-width="0.2" xml:space="preserve">Jul</text><text x="528.0" y="418.6" font-size="9.9" fill="#2a2e39" textLength="16" lengthAdjust="spacingAndGlyphs" stroke="#2a2e39" stroke-width="0.2" xml:space="preserve">Sep</text><text x="584.65" y="418.6" font-size="9.9" fill="#2a2e39" textLength="16.7" lengthAdjust="spacingAndGlyphs" stroke="#2a2e39" stroke-width="0.2" xml:space="preserve">Nov</text><text x="639.7" y="418.6" font-size="9.9" fill="#2a2e39" textLength="22.6" lengthAdjust="spacingAndGlyphs" font-weight="bold" stroke="#2a2e39" stroke-width="0.05" xml:space="preserve">2026</text><text x="693.2" y="418.6" font-size="9.9" fill="#2a2e39" textLength="16.6" lengthAdjust="spacingAndGlyphs" stroke="#2a2e39" stroke-width="0.2" xml:space="preserve">Mar</text><text x="750.25" y="418.6" font-size="9.9" fill="#2a2e39" textLength="17.5" lengthAdjust="spacingAndGlyphs" stroke="#2a2e39" stroke-width="0.2" xml:space="preserve">May</text><text x="809.25" y="418.6" font-size="9.9" fill="#2a2e39" textLength="13.5" lengthAdjust="spacingAndGlyphs" stroke="#2a2e39" stroke-width="0.2" xml:space="preserve">Jul</text><text x="866.0" y="418.6" font-size="9.9" fill="#2a2e39" textLength="16" lengthAdjust="spacingAndGlyphs" stroke="#2a2e39" stroke-width="0.2" xml:space="preserve">Sep</text><text x="916.15" y="418.6" font-size="9.9" fill="#2a2e39" textLength="16.7" lengthAdjust="spacingAndGlyphs" stroke="#2a2e39" stroke-width="0.2" xml:space="preserve">Nov</text><text x="18.5" y="303" font-size="10.5" fill="#333640" textLength="13" lengthAdjust="spacingAndGlyphs" stroke="#333640" stroke-width="0.35" xml:space="preserve">RSI</text><text x="18.5" y="364.7" font-size="10.5" fill="#333640" textLength="23.7" lengthAdjust="spacingAndGlyphs" stroke="#333640" stroke-width="0.35" xml:space="preserve">Stoch</text><text x="18.3" y="49.6" font-size="10.2" fill="#333640" textLength="163.9" lengthAdjust="spacingAndGlyphs" stroke="#333640" stroke-width="0.18" xml:space="preserve">Ethereum / TetherUS · 1W · Binance</text><text x="190.3" y="49.6" font-size="10.2" fill="#333640" textLength="45.4" lengthAdjust="spacingAndGlyphs" stroke="#333640" stroke-width="0.18" xml:space="preserve">O2,816.90</text><text x="242" y="49.6" font-size="10.2" fill="#333640" textLength="45.8" lengthAdjust="spacingAndGlyphs" stroke="#333640" stroke-width="0.18" xml:space="preserve">H3,045.78</text><text x="294.3" y="49.6" font-size="10.2" fill="#333640" textLength="44.5" lengthAdjust="spacingAndGlyphs" stroke="#333640" stroke-width="0.18" xml:space="preserve">L2,689.00</text><text x="344.7" y="49.6" font-size="10.2" fill="#333640" textLength="45.7" lengthAdjust="spacingAndGlyphs" stroke="#333640" stroke-width="0.18" xml:space="preserve">C2,713.55</text><text x="396.8" y="49.6" font-size="10.2" fill="#333640" textLength="76.2" lengthAdjust="spacingAndGlyphs" stroke="#333640" stroke-width="0.18" xml:space="preserve">−103.34 (−3.67%)</text><text x="18.3" y="63.3" font-size="10.2" fill="#333640" textLength="90" lengthAdjust="spacingAndGlyphs" stroke="#333640" stroke-width="0.18" xml:space="preserve">EMA 20/50/100/200</text><rect x="952.8" y="36.2" width="47.8" height="21.4" rx="4" fill="#fff" stroke="#e6e8ee" stroke-width="1"/><text x="960.7" y="50.2" font-size="10.0" fill="#333640" textLength="23.2" lengthAdjust="spacingAndGlyphs" stroke="#333640" stroke-width="0.18" xml:space="preserve">USDT</text><text x="11.4" y="25.6" font-size="10.2" fill="#333640" textLength="332.5" lengthAdjust="spacingAndGlyphs" stroke="#333640" stroke-width="0.18" xml:space="preserve">CryptoFXStreet created with TradingView.com, Jan 30, 2026 16:31 UTC-5</text><rect x="11.5" y="32.5" width="993" height="393" fill="none" stroke="#eaecef" stroke-width="1"/><g fill="#131722"><path d="M12.9,444.9 H22.8 V457.2 H18.2 V449.5 H12.9 Z"/><circle cx="27.2" cy="447.2" r="2.5"/><path d="M31.4,444.9 H37.9 L33.5,457.2 H28 Z"/></g><text x="44.5" y="457.4" font-size="18" fill="#131722" textLength="101.5" lengthAdjust="spacingAndGlyphs" font-weight="bold" xml:space="preserve">TradingView</text></svg>
</body></html>
